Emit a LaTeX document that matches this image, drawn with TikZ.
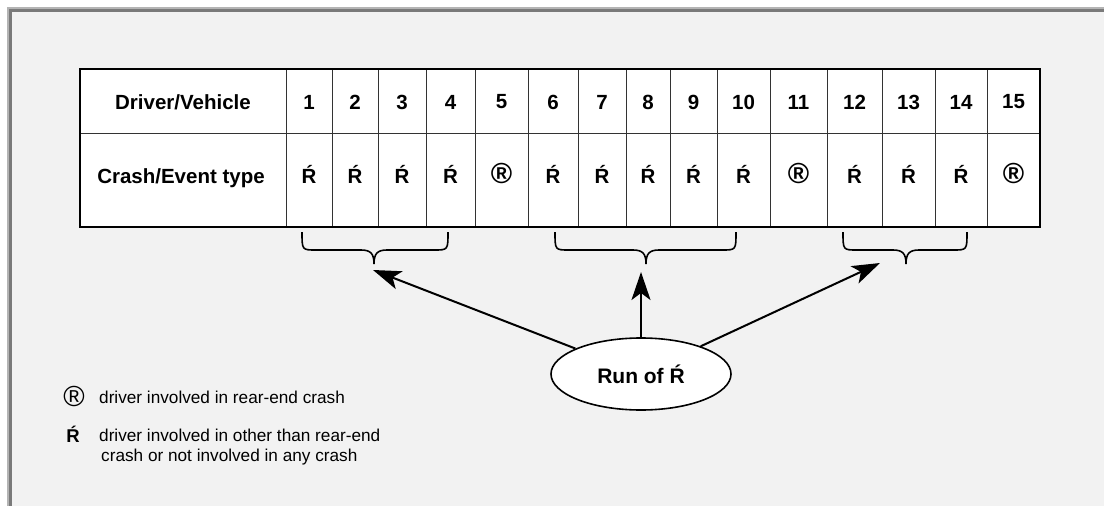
\documentclass[tikz,border=0pt]{standalone}
\usepackage{fontspec}
\setmainfont{Liberation Sans}
\usetikzlibrary{shapes.geometric,arrows.meta}
\definecolor{bgpanel}{HTML}{F2F2F2}
\definecolor{framelight}{HTML}{B4B4B4}
\definecolor{framedark}{HTML}{7A7A7A}
\definecolor{gridline}{HTML}{333333}
\tikzset{
  hdr/.style={font=\fontsize{20.5}{24}\selectfont\bfseries, inner sep=0pt},
  sym/.style={font=\fontsize{20.5}{24}\selectfont\bfseries, inner sep=0pt},
  regsym/.style={font=\fontsize{29}{30}\selectfont, inner sep=0pt},
  legtext/.style={font=\fontsize{17.2}{16.5}\selectfont, inner sep=0pt, align=left},
  bracepath/.style={line width=1.6pt, draw=black},
  bigarrow/.style={line width=2pt, -{Stealth[length=28pt,width=19pt,inset=7pt]}},
  runbox/.style={ellipse, draw=black, line width=1.6pt, fill=white, minimum width=180pt, minimum height=72pt, inner sep=0pt, font=\fontsize{21}{24}\selectfont\bfseries}
}
\newcommand{\bracedraw}[3]{% left x, right x, tip x
  \draw[bracepath] (#1,232) .. controls (#1,250) and (#1,250) .. (#1+14,250)
    -- (#3-13,250) .. controls (#3-3,250) and (#3,254) .. (#3,264)
    .. controls (#3,254) and (#3+3,250) .. (#3+13,250)
    -- (#2-14,250) .. controls (#2,250) and (#2,250) .. (#2,232);
}
\begin{document}
\begin{tikzpicture}[x=1pt,y=-1pt]
\useasboundingbox (0,0) rectangle (1104,506);
\fill[white] (0,0) rectangle (1104,506);
\fill[framelight] (7,7) rectangle (1104,506);
\fill[framedark] (9,9) rectangle (1104,506);
\fill[bgpanel] (12,12) rectangle (1104,506);

% table
\fill[white] (80,69) rectangle (1040,227);
\foreach \x in {286,332,378,426,475,528,578,626,670,717,770,827,882,935,987}
  \draw[gridline, line width=1pt] (\x,69) -- (\x,227);
\draw[gridline, line width=1pt] (80,133) -- (1040,133);
\draw[black, line width=2pt] (80,69) rectangle (1040,227);

\node[hdr] (hlabel) at (183,102) {Driver/Vehicle};
\node[hdr] (slabel) at (181,178) {Crash/Event type};

\foreach \l/\r/\s [count=\i] in {286/332/R,332/378/R,378/426/R,426/475/R,475/528/X,528/578/R,578/626/R,626/670/R,670/717/R,717/770/R,770/827/X,827/882/R,882/935/R,935/987/R,987/1040/X}{
  \node[hdr] (h\i) at ({(\l+\r)/2},102) {\i};
  \if\s R
    \node[sym] (s\i) at ({(\l+\r)/2},174) {Ŕ};
  \else
    \node[regsym, font=\fontsize{29}{30}\selectfont\bfseries] (s\i) at ({(\l+\r)/2},173) {®};
  \fi
}

% braces
\bracedraw{302}{448}{374}
\bracedraw{555}{736}{646}
\bracedraw{843}{967}{906}

% run node and arrows
\node[runbox] (run) at (641,374) {Run of Ŕ};
\coordinate (t1) at (373,270);
\coordinate (t2) at (641,272);
\coordinate (t3) at (880,263);
\draw[bigarrow] (run) -- (t1);
\draw[bigarrow] (run.north) -- (t2);
\draw[bigarrow] (run) -- (t3);

% legend
\node[regsym] (lr) at (74,396) {®};
\node[legtext, anchor=base west] (lrt) at (99,403) {driver involved in rear-end crash};
\node[sym, font=\fontsize{18.5}{20}\selectfont\bfseries] (lo) at (73,434) {Ŕ};
\node[legtext, anchor=base west] (lot) at (99,441) {driver involved in other than rear-end};
\node[legtext, anchor=base west] (lot2) at (101,461) {crash or not involved in any crash};
\end{tikzpicture}
\end{document}
